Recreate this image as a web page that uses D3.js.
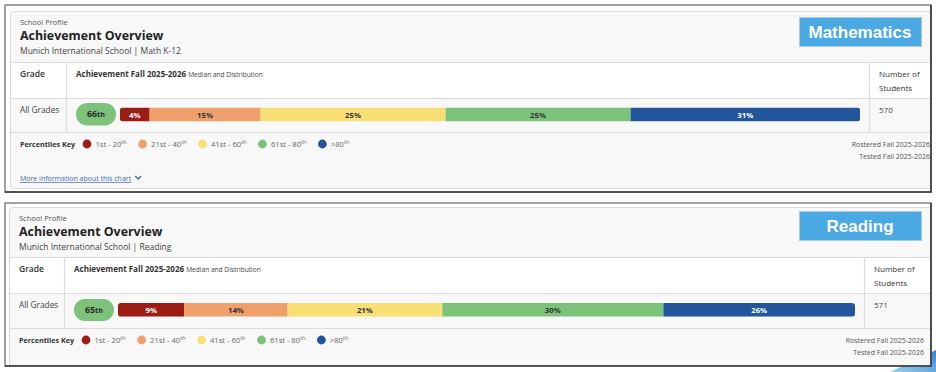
<!DOCTYPE html>
<html>
<head>
<meta charset="utf-8">
<script src="https://cdn.jsdelivr.net/npm/d3@7"></script>
<style>
  body { margin: 0; background: #fff; }
  svg { display: block; font-family: "Open Sans", sans-serif; }
</style>
</head>
<body>
<svg id="chart"></svg>
<script>
// chart values
const subjects = ["Mathematics", "Reading"];
const courses = ["Math K-12", "Reading"];
const schoolName = "Munich International School";
const term = "Fall 2025-2026";
const medianPercentiles = [66, 65];
const studentCounts = [570, 571];
const mathDistribution = [4, 15, 25, 25, 31];
const readingDistribution = [9, 14, 21, 30, 26];
const bandLabels = ["1st - 20", "21st - 40", "41st - 60", "61st - 80", ">80"];
const bandColors = ["#9b1d15", "#f0a16b", "#f8df76", "#7cc27a", "#23559b"];
const bandTextColors = ["#fff", "#333", "#333", "#333", "#fff"];

const distributions = [mathDistribution, readingDistribution];

// where each screenshot panel sits
const LAYOUTS = [
  {
    frame: { x0: 5, y0: 5, x1: 931, y1: 192 },
    card: { x0: 10, y0: 11, y1: 188 },
    rule: 62, rowTop: 98, rowBottom: 132,
    col1: 66, col2: 869,
    bar: { x0: 120, x1: 860, y: 107.5, h: 14 },
    pill: { x0: 76, x1: 116, y: 103, h: 22.5 },
    keyY: 144, textRight: 930, moreInfo: true,
    badge: { x: 799, y: 17, w: 122, h: 29 }
  },
  {
    frame: { x0: 5, y0: 203, x1: 931, y1: 366 },
    card: { x0: 9, y0: 207, y1: 380 },
    rule: 257, rowTop: 293, rowBottom: 328,
    col1: 64, col2: 864,
    bar: { x0: 118, x1: 855, y: 303, h: 13.7 },
    pill: { x0: 74, x1: 114, y: 299, h: 22 },
    keyY: 340, textRight: 924, moreInfo: false,
    badge: { x: 799, y: 211, w: 122, h: 29 }
  }
];

const svg = d3.select("#chart").attr("width", 936).attr("height", 372);

const defs = svg.append("defs");
const grad = defs.append("linearGradient").attr("id", "slideCorner")
  .attr("x1", "0").attr("y1", "1").attr("x2", "1").attr("y2", "0");
grad.append("stop").attr("offset", "0").attr("stop-color", "#9fd0f2");
grad.append("stop").attr("offset", "1").attr("stop-color", "#2f86d6");

// slide decoration in the corner
svg.append("path")
  .attr("d", "M890,372 Q915,360 936,350 L936,372 Z")
  .attr("fill", "url(#slideCorner)");

const drawPanel = function(i) {
  const L = LAYOUTS[i];
  const f = L.frame;
  const values = distributions[i];

  defs.append("clipPath").attr("id", `panel${i}`)
    .append("rect")
    .attr("x", f.x0).attr("y", f.y0)
    .attr("width", f.x1 - f.x0).attr("height", f.y1 - f.y0);

  const g = svg.append("g").attr("clip-path", `url(#panel${i})`);

  g.append("rect")
    .attr("x", f.x0).attr("y", f.y0)
    .attr("width", f.x1 - f.x0).attr("height", f.y1 - f.y0)
    .attr("fill", "#fff");

  // card
  g.append("rect")
    .attr("x", L.card.x0 + 0.5).attr("y", L.card.y0 + 0.5)
    .attr("width", f.x1 + 10 - L.card.x0).attr("height", L.card.y1 - L.card.y0)
    .attr("rx", 3)
    .attr("fill", "#f8f8f8").attr("stroke", "#d9d9d9");

  // header row is white
  g.append("rect")
    .attr("x", L.card.x0 + 1).attr("y", L.rule)
    .attr("width", f.x1 - L.card.x0).attr("height", L.rowTop - L.rule)
    .attr("fill", "#fff");

  const tx = L.card.x0 + 10;
  g.append("text").attr("x", tx).attr("y", L.card.y0 + 14)
    .attr("font-size", 7.5).attr("fill", "#555").text("School Profile");
  g.append("text").attr("x", tx).attr("y", L.card.y0 + 29)
    .attr("font-size", 12.4).attr("font-weight", 700).attr("fill", "#222")
    .text("Achievement Overview");
  g.append("text").attr("x", tx).attr("y", L.card.y0 + 43)
    .attr("font-size", 8.5).attr("fill", "#444")
    .text(`${schoolName} | ${courses[i]}`);

  // table lines
  [L.rule, L.rowTop, L.rowBottom].forEach(y => {
    g.append("line")
      .attr("x1", L.card.x0).attr("x2", f.x1)
      .attr("y1", y + 0.5).attr("y2", y + 0.5)
      .attr("stroke", "#dcdcdc").attr("stroke-width", 1.2);
  });
  [L.col1, L.col2].forEach(x => {
    g.append("line")
      .attr("x1", x + 0.5).attr("x2", x + 0.5)
      .attr("y1", L.rule).attr("y2", L.rowBottom)
      .attr("stroke", "#dcdcdc").attr("stroke-width", 1.2);
  });

  // header cells
  g.append("text").attr("x", tx).attr("y", L.rule + 15)
    .attr("font-size", 8.5).attr("font-weight", 600).attr("fill", "#333")
    .text("Grade");
  const head = g.append("text").attr("x", L.col1 + 10).attr("y", L.rule + 15)
    .attr("font-size", 8).attr("font-weight", 700).attr("fill", "#333");
  head.append("tspan").text(`Achievement ${term} `);
  head.append("tspan").attr("font-size", 6.6).attr("font-weight", 400).attr("fill", "#444")
    .text("Median and Distribution");
  g.append("text").attr("x", L.col2 + 10).attr("y", L.rule + 15)
    .attr("font-size", 8).attr("fill", "#333").text("Number of");
  g.append("text").attr("x", L.col2 + 10).attr("y", L.rule + 29)
    .attr("font-size", 8).attr("fill", "#333").text("Students");

  // data row
  g.append("text").attr("x", tx).attr("y", L.rowTop + 15)
    .attr("font-size", 8.3).attr("fill", "#444").text("All Grades");
  g.append("text").attr("x", L.col2 + 10).attr("y", L.rowTop + 15)
    .attr("font-size", 8).attr("fill", "#444").text(studentCounts[i]);

  const p = L.pill;
  g.append("rect")
    .attr("x", p.x0).attr("y", p.y)
    .attr("width", p.x1 - p.x0).attr("height", p.h)
    .attr("rx", p.h / 2).attr("fill", bandColors[3]);
  const pillText = g.append("text")
    .attr("x", (p.x0 + p.x1) / 2).attr("y", p.y + p.h / 2 + 3)
    .attr("text-anchor", "middle")
    .attr("font-size", 8.8).attr("font-weight", 700).attr("fill", "#2a2a2a");
  pillText.append("tspan").text(medianPercentiles[i]);
  pillText.append("tspan").attr("font-size", 7.2).text("th");

  // stacked distribution bar
  const x = d3.scaleLinear().domain([0, 100]).range([L.bar.x0, L.bar.x1]);
  const ends = Array.from(d3.cumsum(values));
  const segs = values.map((v, k) => ({ v, k, start: ends[k] - v, end: ends[k] }));

  defs.append("clipPath").attr("id", `bar${i}`)
    .append("rect")
    .attr("x", x(0)).attr("y", L.bar.y)
    .attr("width", x(100) - x(0)).attr("height", L.bar.h)
    .attr("rx", 3);

  const barG = g.append("g").attr("clip-path", `url(#bar${i})`);
  barG.selectAll("rect").data(segs).enter().append("rect")
    .attr("x", d => x(d.start))
    .attr("y", L.bar.y)
    .attr("width", d => x(d.end) - x(d.start))
    .attr("height", L.bar.h)
    .attr("fill", d => bandColors[d.k]);
  g.selectAll("text.seg").data(segs).enter().append("text")
    .attr("class", "seg")
    .attr("x", d => (x(d.start) + x(d.end)) / 2)
    .attr("y", L.bar.y + L.bar.h / 2 + 3)
    .attr("text-anchor", "middle")
    .attr("font-size", 7.8).attr("font-weight", 700)
    .attr("fill", d => bandTextColors[d.k])
    .text(d => `${d.v}%`);

  // percentiles key
  const keyTitle = g.append("text").attr("x", tx).attr("y", L.keyY + 3)
    .attr("font-size", 7.2).attr("font-weight", 700).attr("fill", "#333")
    .text("Percentiles Key");
  let cx = tx + keyTitle.node().getComputedTextLength() + 12;
  bandLabels.forEach((label, k) => {
    g.append("circle").attr("cx", cx).attr("cy", L.keyY).attr("r", 4.4)
      .attr("fill", bandColors[k]);
    const t = g.append("text").attr("x", cx + 8.5).attr("y", L.keyY + 3)
      .attr("font-size", 7.6).attr("fill", "#666");
    t.append("tspan").text(label);
    t.append("tspan").attr("font-size", 5.5).attr("dy", -3).text("th");
    cx += 8.5 + t.node().getComputedTextLength() + 16;
  });

  g.append("text").attr("x", L.textRight).attr("y", L.keyY + 3)
    .attr("text-anchor", "end").attr("font-size", 7).attr("fill", "#555")
    .text(`Rostered ${term}`);
  g.append("text").attr("x", L.textRight).attr("y", L.keyY + 15)
    .attr("text-anchor", "end").attr("font-size", 7).attr("fill", "#555")
    .text(`Tested ${term}`);

  if (L.moreInfo) {
    const link = g.append("text").attr("x", tx).attr("y", L.keyY + 37)
      .attr("font-size", 7).attr("fill", "#3b6db3")
      .attr("text-decoration", "underline")
      .text("More information about this chart");
    const lx = tx + link.node().getComputedTextLength() + 7;
    g.append("path")
      .attr("d", `M${lx - 3},${L.keyY + 32} L${lx},${L.keyY + 35} L${lx + 3},${L.keyY + 32}`)
      .attr("fill", "none").attr("stroke", "#3b6db3").attr("stroke-width", 1.3);
  }

  // subject badge
  const b = L.badge;
  g.append("rect")
    .attr("x", b.x + 0.5).attr("y", b.y + 0.5)
    .attr("width", b.w).attr("height", b.h)
    .attr("fill", "#4aa8e2").attr("stroke", "#a9c9dc");
  g.append("text")
    .attr("x", b.x + b.w / 2).attr("y", b.y + b.h / 2 + 6)
    .attr("text-anchor", "middle")
    .attr("font-family", "'Liberation Sans', Arial, sans-serif")
    .attr("font-size", 17).attr("font-weight", 700).attr("fill", "#fff")
    .text(subjects[i]);

  // screenshot frame
  svg.append("rect")
    .attr("x", f.x0).attr("y", f.y0)
    .attr("width", f.x1 - f.x0).attr("height", f.y1 - f.y0)
    .attr("fill", "none").attr("stroke", "#8a8a8a").attr("stroke-width", 1.6);
  svg.append("path")
    .attr("d", `M${f.x1},${f.y0} L${f.x1},${f.y1} L${f.x0},${f.y1}`)
    .attr("fill", "none").attr("stroke", "#3a3a3a").attr("stroke-width", 1.6);
};

subjects.forEach((s, i) => drawPanel(i));
</script>
</body>
</html>
